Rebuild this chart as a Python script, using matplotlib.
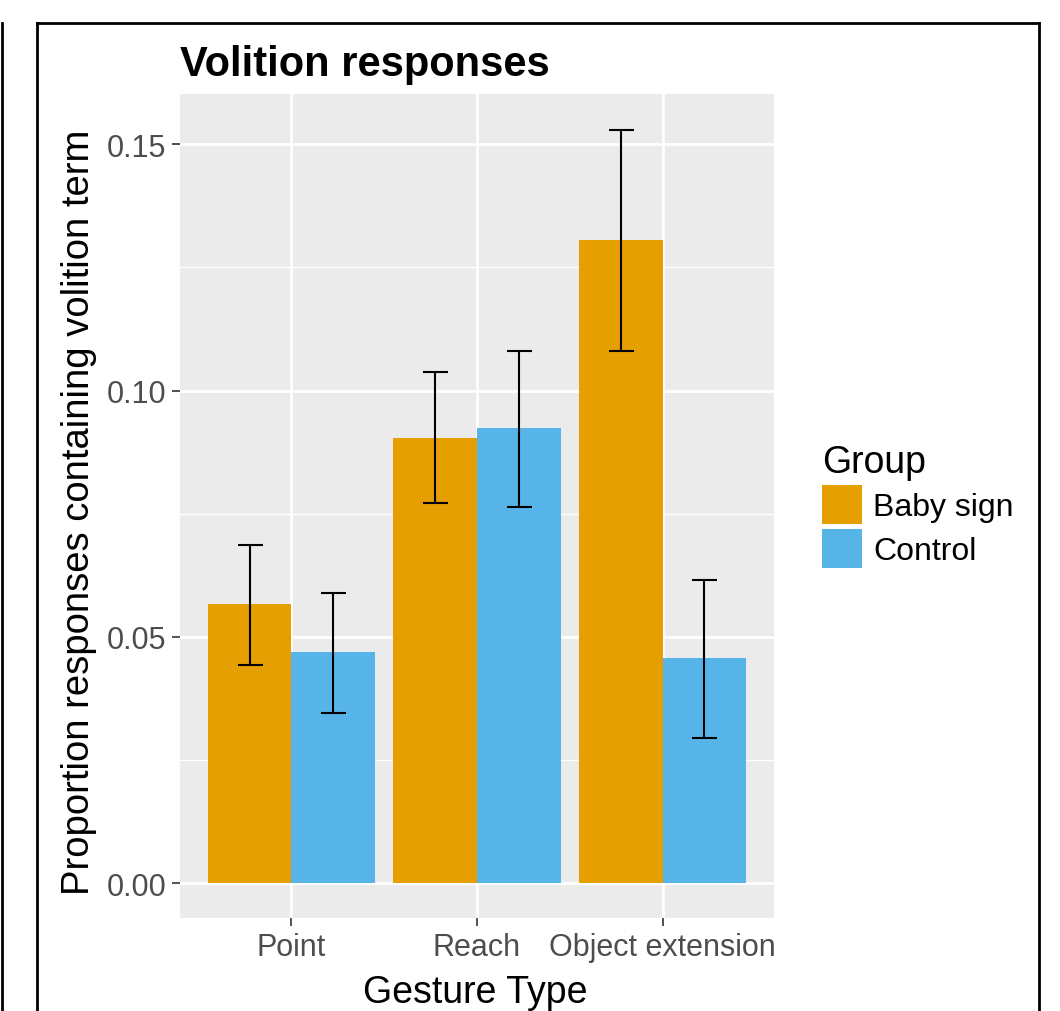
import matplotlib
matplotlib.use("Agg")
import matplotlib.pyplot as plt
import numpy as np
from matplotlib.patches import Patch
from matplotlib.lines import Line2D

plt.rcParams['font.family'] = ['Liberation Sans', 'DejaVu Sans']

categories = ["Point", "Reach", "Object extension"]
groups = ["Baby sign", "Control"]
baby_sign = [0.0566, 0.0903, 0.1305]
baby_lo = [0.0443, 0.0771, 0.1080]
baby_hi = [0.0686, 0.1037, 0.1529]
control = [0.0469, 0.0924, 0.0457]
control_lo = [0.0345, 0.0763, 0.0294]
control_hi = [0.0589, 0.1080, 0.0615]
colors = ["#E69F00", "#56B4E9"]
y_ticks = [0.00, 0.05, 0.10, 0.15]
y_tick_labels = ["0.00", "0.05", "0.10", "0.15"]

fig = plt.figure(figsize=(10.6, 10.12), dpi=100)
ax = fig.add_axes([180/1060, 1-919/1012, (774-180)/1060, (919-95)/1012])
ax.set_facecolor("#EBEBEB")

x = np.arange(1, len(categories) + 1)
w = 0.45
series = [(baby_sign, baby_lo, baby_hi), (control, control_lo, control_hi)]
for i, (vals, lo, hi) in enumerate(series):
    xpos = x + (i - 0.5) * w
    ax.bar(xpos, vals, width=w, color=colors[i], zorder=3, linewidth=0)
    lo = np.array(lo); hi = np.array(hi); vals = np.array(vals)
    ax.errorbar(xpos, vals, yerr=[vals - lo, hi - vals], fmt='none',
                ecolor='black', elinewidth=1.5, capsize=9, capthick=1.5, zorder=4)

ax.set_xlim(0.4, 3.6)
ax.set_ylim(-0.0071, 0.1602)
ax.set_yticks(y_ticks)
ax.set_yticklabels(y_tick_labels)
ax.set_yticks([0.025, 0.075, 0.125], minor=True)
ax.set_xticks(x)
ax.set_xticklabels(categories)
ax.grid(which='major', color='white', linewidth=2, zorder=0)
ax.grid(which='minor', axis='y', color='white', linewidth=1, zorder=0)
ax.set_axisbelow(True)
for s in ax.spines.values():
    s.set_visible(False)
ax.tick_params(axis='both', which='major', length=6, width=1.2, color='#333333',
               labelcolor='#4D4D4D', labelsize=22, pad=4)
ax.tick_params(axis='y', which='minor', length=0)

ax.set_xlabel("Gesture Type", fontsize=27)
ax.set_ylabel("Proportion responses containing volition term", fontsize=27.5)
ax.xaxis.set_label_coords((475 - 180) / (774 - 180), -(993 - 919) / (919 - 95), transform=ax.transAxes)
ax.yaxis.set_label_coords(-(180 - 79) / (774 - 180), (919 - 512) / (919 - 95), transform=ax.transAxes)
ax.xaxis.label.set_va('center')
ax.yaxis.label.set_va('center')
ax.set_title("Volition responses", fontsize=30, fontweight='bold', loc='left', pad=14)

handles = [Patch(facecolor=c, edgecolor='none') for c in colors]
leg = fig.legend(handles, groups, title="Group", loc='upper left',
                 bbox_to_anchor=(822/1060, 1-445/1012), frameon=False,
                 borderpad=0, borderaxespad=0,
                 fontsize=23, title_fontsize=27, handlelength=1.25, handleheight=1.47,
                 handletextpad=0.35, labelspacing=0.17, alignment='left')

# frame lines
fig.add_artist(Line2D([37/1060, 37/1060], [0, 1-24/1012], transform=fig.transFigure, color='black', lw=2))
fig.add_artist(Line2D([1039/1060, 1039/1060], [0, 1-24/1012], transform=fig.transFigure, color='black', lw=2))
fig.add_artist(Line2D([37/1060, 1039/1060], [1-24/1012, 1-24/1012], transform=fig.transFigure, color='black', lw=2))
fig.add_artist(Line2D([1.5/1060, 1.5/1060], [0, 1-24/1012], transform=fig.transFigure, color='black', lw=2))

fig.savefig("out.png", dpi=100)
